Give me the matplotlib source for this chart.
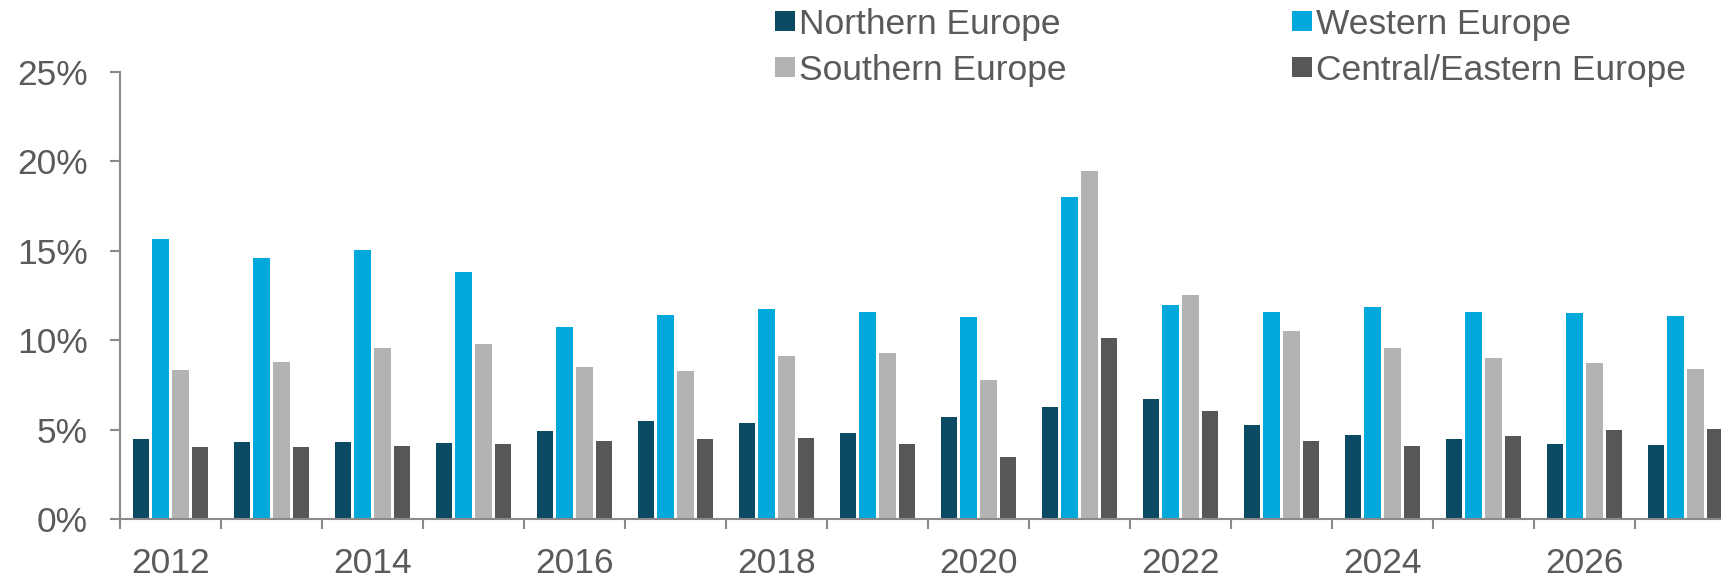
import matplotlib
matplotlib.use("Agg")
import matplotlib.pyplot as plt
from matplotlib.patches import Rectangle
from matplotlib.ticker import FuncFormatter, FixedLocator
import numpy as np

plt.rcParams['font.family'] = ['Liberation Sans', 'DejaVu Sans']

years = list(range(2012, 2028))
series_names = ["Northern Europe", "Western Europe", "Southern Europe", "Central/Eastern Europe"]
series_colors = ["#0B4A63", "#00A8DC", "#B3B3B3", "#575757"]

northern = [4.5, 4.3, 4.3, 4.25, 4.9, 5.5, 5.35, 4.8, 5.7, 6.25, 6.7, 5.25, 4.7, 4.5, 4.2, 4.15]
western = [15.65, 14.6, 15.05, 13.8, 10.75, 11.4, 11.75, 11.6, 11.3, 18.0, 11.95, 11.6, 11.85, 11.6, 11.5, 11.35]
southern = [8.35, 8.8, 9.55, 9.8, 8.5, 8.25, 9.1, 9.3, 7.75, 19.45, 12.55, 10.5, 9.55, 9.0, 8.7, 8.4]
central = [4.0, 4.0, 4.1, 4.2, 4.35, 4.45, 4.55, 4.2, 3.45, 10.1, 6.05, 4.35, 4.1, 4.65, 5.0, 5.05]
series_values = [northern, western, southern, central]

y_ticks = [0, 5, 10, 15, 20, 25]

W, H = 1721, 578
fig = plt.figure(figsize=(W / 100, H / 100), dpi=100)

# axes in pixel terms: y-axis at x=120, 101 px per year, 0% at y=519, 25% at y=72
left_px, cat_px, zero_px, top_px = 120, 101, 519, 72
ax = fig.add_axes([left_px / W, (H - zero_px) / H,
                   len(years) * cat_px / W, (zero_px - top_px) / H])

text_color = "#5A5A5A"
axis_color = "#8A8A8A"

x = np.arange(len(years))
pitch, bar_w = 0.195, 0.163
offsets = (np.arange(len(series_names)) - 1.5) * pitch
for vals, col, off in zip(series_values, series_colors, offsets):
    ax.bar(x + off, vals, width=bar_w, color=col, linewidth=0)

ax.set_xlim(-0.5, len(years) - 0.5)
ax.set_ylim(0, 25)

for s in ["top", "right"]:
    ax.spines[s].set_visible(False)
for s in ["left", "bottom"]:
    ax.spines[s].set_color(axis_color)
    ax.spines[s].set_linewidth(1.5)

ax.set_yticks(y_ticks)
ax.yaxis.set_major_formatter(FuncFormatter(lambda v, p: f"{v:.0f}%"))
ax.tick_params(axis="y", length=7.2, width=1.5, color=axis_color, pad=16,
               labelsize=25.5, labelcolor=text_color)

label_pos = [i for i, yr in enumerate(years) if yr % 2 == 0]
ax.set_xticks(label_pos)
ax.set_xticklabels([str(years[i]) for i in label_pos])
ax.xaxis.set_minor_locator(FixedLocator(np.arange(len(years) + 1) - 0.5))
ax.tick_params(axis="x", which="major", length=0, pad=20,
               labelsize=25.5, labelcolor=text_color)
ax.tick_params(axis="x", which="minor", length=7.2, width=1.5, color=axis_color)

# legend: two columns of colour squares with labels
leg_cols_px = [775, 1292]
leg_rows_px = [21, 67]
sq = 20
for i, (name, col) in enumerate(zip(series_names, series_colors)):
    cx = leg_cols_px[i % 2]
    cy = leg_rows_px[i // 2]
    fig.patches.append(Rectangle((cx / W, (H - cy - sq / 2) / H), sq / W, sq / H,
                                 transform=fig.transFigure, color=col, linewidth=0))
    fig.text((cx + sq + 4) / W, (H - cy) / H, name, fontsize=25.5, color=text_color,
             va="center_baseline", ha="left")

fig.savefig("out.png", dpi=100)
